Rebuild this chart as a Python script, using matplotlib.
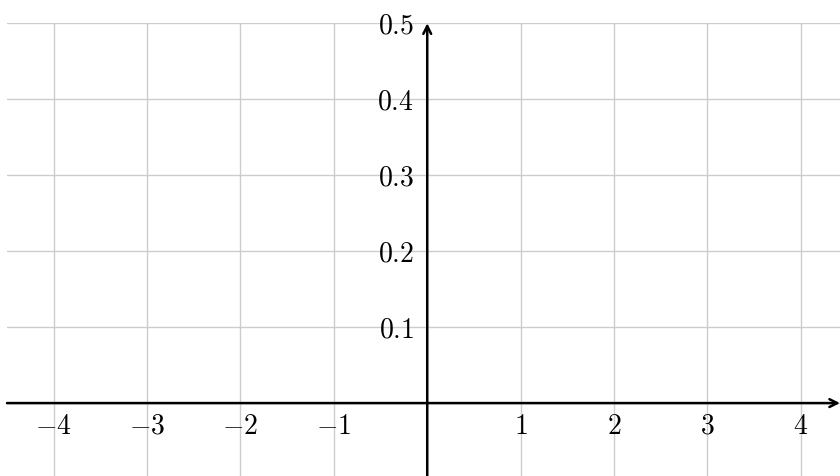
import numpy as np
import matplotlib.pyplot as plt

plt.rcParams['mathtext.fontset'] = 'cm'

# tick values and labels
x_ticks = [-4, -3, -2, -1, 1, 2, 3, 4]
x_grid = [-4, -3, -2, -1, 0, 1, 2, 3, 4]
y_ticks = [0.1, 0.2, 0.3, 0.4, 0.5]
y_labels = ['0.1', '0.2', '0.3', '0.4', '0.5']

x_min, x_max = -4.5, 4.42
y_min, y_max = -0.096, 0.5

fig = plt.figure(figsize=(8.4, 4.76), dpi=100)
ax = fig.add_axes([7 / 840, 0, 1 - 7 / 840, (476 - 23.3) / 476])
ax.set_xlim(x_min, x_max)
ax.set_ylim(y_min, y_max)

for s in ax.spines.values():
    s.set_visible(False)
ax.set_xticks(x_grid)
ax.set_yticks([0] + y_ticks)
ax.tick_params(length=0, labelbottom=False, labelleft=False)
ax.grid(True, color='#cccccc', lw=1.0)

# axes with arrows
ax.annotate('', xy=(x_max, 0), xytext=(x_min, 0),
            arrowprops=dict(arrowstyle='->', lw=1.8, color='black',
                            mutation_scale=14, shrinkA=0, shrinkB=0),
            annotation_clip=False)
ax.annotate('', xy=(0, y_max), xytext=(0, y_min),
            arrowprops=dict(arrowstyle='->', lw=1.8, color='black',
                            mutation_scale=14, shrinkA=0, shrinkB=0),
            annotation_clip=False)

fs = 20
for x in x_ticks:
    lab = r'$-%d$' % abs(x) if x < 0 else r'$%d$' % x
    ax.annotate(lab, xy=(x, 0), xytext=(0, -16.5), textcoords='offset points',
                ha='center', va='center', fontsize=fs)

for y, lab in zip(y_ticks, y_labels):
    ax.annotate(r'$%s$' % lab, xy=(0, y), xytext=(-9.5, -1.5), textcoords='offset points',
                ha='right', va='center', fontsize=fs)

fig.savefig('out.png', dpi=100)
